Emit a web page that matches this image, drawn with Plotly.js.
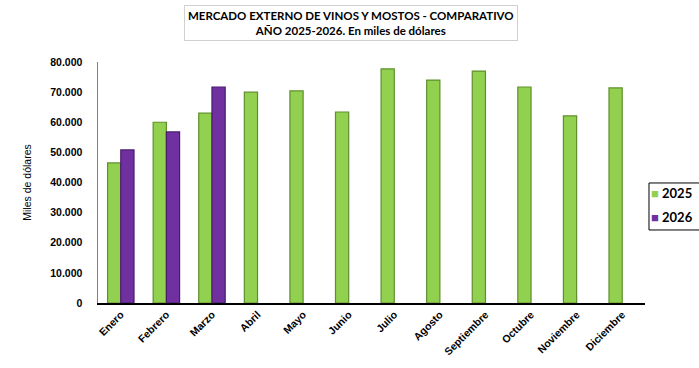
<!DOCTYPE html>
<html>
<head>
<meta charset="utf-8">
<script src="https://cdn.plot.ly/plotly-3.0.1.min.js"></script>
<style>html,body{margin:0;padding:0;background:#fff;}#chart{width:699px;height:368px;}</style>
</head>
<body>
<div id="chart"></div>
<script>
const months = ["Enero","Febrero","Marzo","Abril","Mayo","Junio","Julio","Agosto","Septiembre","Octubre","Noviembre","Diciembre"];
const values2025 = [46500, 60000, 63000, 70000, 70400, 63400, 77700, 74000, 77000, 71700, 62100, 71400];
const values2026 = [50800, 56800, 71700, null, null, null, null, null, null, null, null, null];
const seriesNames = ["2025", "2026"];
const seriesColors = ["#92D050", "#7030A0"];
const seriesEdges = ["#5F8F2C", "#4A1C6E"];
const yTickVals = [0,10000,20000,30000,40000,50000,60000,70000,80000];
const yTickText = ["0","10.000","20.000","30.000","40.000","50.000","60.000","70.000","80.000"];

const traces = [
  {type:"bar", name:seriesNames[0], x:months, y:values2025,
   marker:{color:seriesColors[0], line:{color:seriesEdges[0], width:1.2}}},
  {type:"bar", name:seriesNames[1], x:months, y:values2026,
   marker:{color:seriesColors[1], line:{color:seriesEdges[1], width:1.2}}}
];

const legendFont = {size:13, family:"Lato, Liberation Sans, sans-serif", color:"#000", weight:"bold"};

const layout = {
  width:699, height:368,
  margin:{l:98, r:54, t:62, b:65},
  paper_bgcolor:"#fff", plot_bgcolor:"#fff",
  barmode:"group", bargap:0.42, bargroupgap:0,
  font:{family:"Liberation Sans, Arial, sans-serif", color:"#000"},
  showlegend:false,
  xaxis:{showline:true, linecolor:"#000", linewidth:1.5, ticks:"", showgrid:false,
    tickangle:-45, tickfont:{size:10.5, family:"Liberation Sans, Arial, sans-serif", weight:"bold"},
    zeroline:false},
  yaxis:{range:[0,80000], showline:true, linecolor:"#808080", linewidth:1.5,
    ticks:"", showgrid:false, zeroline:false,
    tickvals:yTickVals, ticktext:yTickText, ticklabelstandoff:12,
    tickfont:{size:10.5, family:"Liberation Sans, Arial, sans-serif", weight:"bold"},
    title:{text:"Miles de dólares", standoff:16, font:{size:10.5, family:"Liberation Sans, Arial, sans-serif"}}},
  shapes:[
    {type:"rect", xref:"paper", yref:"paper", x0:1.0073, x1:1.1005, y0:0.303, y1:0.498,
     line:{color:"#000", width:1}, fillcolor:"#fff", layer:"below"}
  ],
  annotations:[
    {xref:"paper", yref:"paper", x:(351-98)/547, y:1.163, xanchor:"center", yanchor:"middle",
     showarrow:false, align:"center",
     text:"<b>MERCADO EXTERNO DE VINOS Y MOSTOS - COMPARATIVO<br>AÑO 2025-2026. En miles de dólares</b>",
     font:{size:11.5, family:"Lato, Liberation Sans, sans-serif", color:"#000"},
     bordercolor:"#d0d0d0", borderwidth:1, borderpad:3, bgcolor:"#fff"},
    {xref:"paper", yref:"paper", x:1.008, y:(303-193)/241, xanchor:"left", yanchor:"middle",
     showarrow:false, text:"<span style='color:"+seriesColors[0]+"'>■</span> "+seriesNames[0], font:legendFont},
    {xref:"paper", yref:"paper", x:1.008, y:(303-217)/241, xanchor:"left", yanchor:"middle",
     showarrow:false, text:"<span style='color:"+seriesColors[1]+"'>■</span> "+seriesNames[1], font:legendFont}
  ]
};
Plotly.newPlot("chart", traces, layout, {displayModeBar:false, staticPlot:true});
</script>
</body>
</html>
